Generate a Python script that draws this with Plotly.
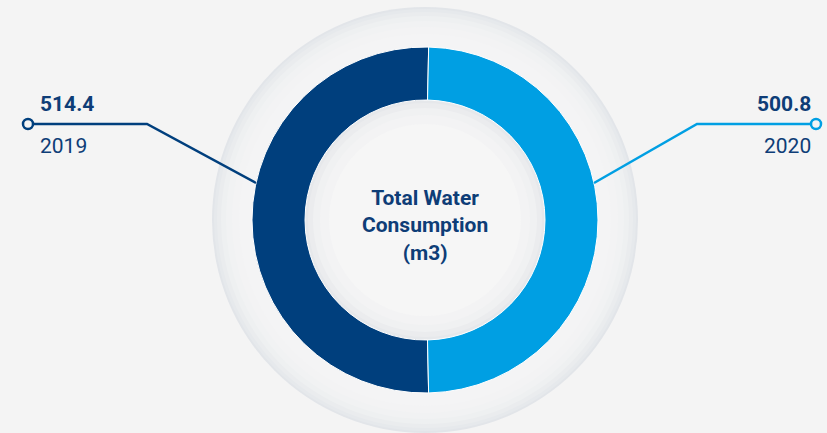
import plotly.graph_objects as go

# ---- data ----
years = ["2019", "2020"]
consumption = [514.4, 500.8]
value_labels = ["514.4", "500.8"]
center_title = "Total Water<br>Consumption<br>(m3)"

DARK = "#003f7d"
LIGHT = "#009fe3"
TEXT = "#0e3d77"
BG = "#f4f4f4"

W, H = 827, 433
cx, cy = 425, 220
R_OUT, R_HOLE = 173, 120

fig = go.Figure()

# donut: 2019 slice starts near the bottom and runs clockwise over the left half
fig.add_trace(go.Pie(
    labels=years, values=consumption, sort=False, direction="clockwise",
    rotation=178.8, hole=R_HOLE / R_OUT, textinfo="none", hoverinfo="label+value",
    marker=dict(colors=[DARK, LIGHT], line=dict(color="#ffffff", width=1)),
    domain=dict(x=[(cx - R_OUT) / W, (cx + R_OUT) / W],
                y=[(H - cy - R_OUT) / H, (H - cy + R_OUT) / H]),
    showlegend=False,
))

shapes = []
def circ(r, fill):
    shapes.append(dict(type="circle", xref="x", yref="y", layer="below",
                       x0=cx - r, x1=cx + r, y0=cy - r, y1=cy + r,
                       fillcolor=fill, line=dict(width=0, color=fill)))

# outer soft disc
ring = [(213, "#e2e5e9"), (211, "#e6e9ec"), (208, "#eaecee"), (204, "#eef0f1"),
        (199, "#f1f2f3"), (193, "#f3f3f4"), (186, "#f4f4f5")]
for r, c in ring:
    circ(r, c)
# hole shading
hole = [(R_HOLE, "#e6e8eb"), (117, "#ebecee"), (112, "#f0f1f2"), (105, "#f3f3f4"), (96, "#f6f6f6")]
for r, c in hole:
    circ(r, c)

# connector lines
shapes.append(dict(type="path", xref="x", yref="y", layer="above",
                   path="M 33 124 L 147 124 L 256 183", line=dict(color=DARK, width=2.5)))
shapes.append(dict(type="path", xref="x", yref="y", layer="above",
                   path="M 811 124 L 697 124 L 594 183", line=dict(color=LIGHT, width=2.5)))
for x, c in [(28, DARK), (816, LIGHT)]:
    shapes.append(dict(type="circle", xref="x", yref="y", layer="above",
                       x0=x - 5, x1=x + 5, y0=124 - 5, y1=124 + 5,
                       fillcolor=BG, line=dict(color=c, width=2.5)))

annotations = [
    dict(x=38, y=104, text=f"<b>{value_labels[0]}</b>", xanchor="left", yanchor="middle",
         font=dict(size=21, color=TEXT)),
    dict(x=38, y=146, text=years[0], xanchor="left", yanchor="middle",
         font=dict(size=21, color=TEXT)),
    dict(x=813, y=104, text=f"<b>{value_labels[1]}</b>", xanchor="right", yanchor="middle",
         font=dict(size=21, color=TEXT)),
    dict(x=813, y=146, text=years[1], xanchor="right", yanchor="middle",
         font=dict(size=21, color=TEXT)),
    dict(x=cx, y=225, text=f"<b>{center_title}</b>", xanchor="center", yanchor="middle",
         font=dict(size=21, color=TEXT), align="center"),
]
for a in annotations:
    a.update(xref="x", yref="y", showarrow=False)

fig.update_layout(
    width=W, height=H, margin=dict(l=0, r=0, t=0, b=0),
    paper_bgcolor=BG, plot_bgcolor=BG,
    font=dict(family="Roboto", color=TEXT),
    xaxis=dict(range=[0, W], visible=False, fixedrange=True),
    yaxis=dict(range=[H, 0], visible=False, fixedrange=True),
    shapes=shapes, annotations=annotations, showlegend=False,
)

fig.write_html("out.html")
